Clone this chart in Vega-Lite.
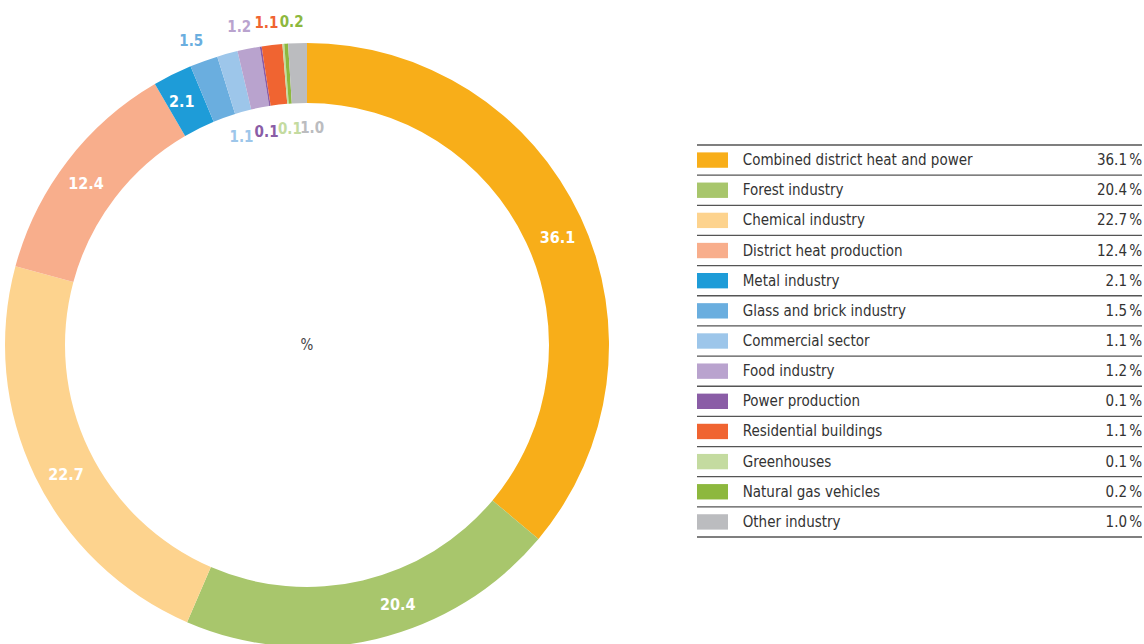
{
  "$schema": "https://vega.github.io/schema/vega-lite/v6.json",
  "padding": 0,
  "background": "white",
  "spacing": 82,
  "config": {"view": {"stroke": null}, "font": "DejaVu Sans Condensed, DejaVu Sans"},
  "datasets": {
    "sectors": [
      {"idx": 0, "sector": "Combined district heat and power", "value": 36.1},
      {"idx": 1, "sector": "Forest industry", "value": 20.4},
      {"idx": 2, "sector": "Chemical industry", "value": 22.7},
      {"idx": 3, "sector": "District heat production", "value": 12.4},
      {"idx": 4, "sector": "Metal industry", "value": 2.1},
      {"idx": 5, "sector": "Glass and brick industry", "value": 1.5},
      {"idx": 6, "sector": "Commercial sector", "value": 1.1},
      {"idx": 7, "sector": "Food industry", "value": 1.2},
      {"idx": 8, "sector": "Power production", "value": 0.1},
      {"idx": 9, "sector": "Residential buildings", "value": 1.1},
      {"idx": 10, "sector": "Greenhouses", "value": 0.1},
      {"idx": 11, "sector": "Natural gas vehicles", "value": 0.2},
      {"idx": 12, "sector": "Other industry", "value": 1.0}
    ]
  },
  "hconcat": [
    {
      "width": 614,
      "height": 690,
      "data": {"name": "sectors"},
      "encoding": {
        "theta": {"field": "value", "type": "quantitative", "stack": true},
        "order": {"field": "idx", "type": "quantitative"}
      },
      "layer": [
        {
          "mark": {"type": "arc", "outerRadius": 302, "innerRadius": 242},
          "encoding": {
            "color": {
              "field": "sector", "type": "nominal", "legend": null,
              "scale": {
                "domain": ["Combined district heat and power", "Forest industry", "Chemical industry", "District heat production", "Metal industry", "Glass and brick industry", "Commercial sector", "Food industry", "Power production", "Residential buildings", "Greenhouses", "Natural gas vehicles", "Other industry"],
                "range": ["#F8AE19", "#A8C66C", "#FDD38E", "#F8AE8C", "#1E9CD8", "#6AAEDF", "#9DC6EA", "#B9A3CE", "#8A5DA6", "#F06431", "#C4DBA0", "#8DB83E", "#BBBCBF"]
              }
            }
          }
        },
        {
          "mark": {"type": "text", "radius": 272, "fontSize": 16, "fontWeight": "bold", "color": "white", "dx": 4, "dy": 8},
          "encoding": {
            "detail": {"field": "sector", "type": "nominal"},
            "text": {"condition": {"test": "datum.idx == 0", "field": "value", "type": "quantitative", "format": ".1f"}, "value": ""}
          }
        },
        {
          "mark": {"type": "text", "radius": 272, "fontSize": 16, "fontWeight": "bold", "color": "white", "dx": 28, "dy": -5},
          "encoding": {
            "detail": {"field": "sector", "type": "nominal"},
            "text": {"condition": {"test": "datum.idx == 1", "field": "value", "type": "quantitative", "format": ".1f"}, "value": ""}
          }
        },
        {
          "mark": {"type": "text", "radius": 272, "fontSize": 16, "fontWeight": "bold", "color": "white", "dx": 4, "dy": 12},
          "encoding": {
            "detail": {"field": "sector", "type": "nominal"},
            "text": {"condition": {"test": "datum.idx == 2", "field": "value", "type": "quantitative", "format": ".1f"}, "value": ""}
          }
        },
        {
          "mark": {"type": "text", "radius": 272, "fontSize": 16, "fontWeight": "bold", "color": "white", "dx": -5, "dy": 4},
          "encoding": {
            "detail": {"field": "sector", "type": "nominal"},
            "text": {"condition": {"test": "datum.idx == 3", "field": "value", "type": "quantitative", "format": ".1f"}, "value": ""}
          }
        },
        {
          "mark": {"type": "text", "radius": 272, "fontSize": 16, "fontWeight": "bold", "color": "white", "dx": -4, "dy": 1},
          "encoding": {
            "detail": {"field": "sector", "type": "nominal"},
            "text": {"condition": {"test": "datum.idx == 4", "field": "value", "type": "quantitative", "format": ".1f"}, "value": ""}
          }
        },
        {
          "mark": {"type": "text", "radius": 324, "fontSize": 15, "fontWeight": "bold", "dx": -5},
          "encoding": {
            "color": {"field": "sector", "type": "nominal", "legend": null},
            "text": {"condition": {"test": "datum.idx == 5", "field": "value", "type": "quantitative", "format": ".1f"}, "value": ""}
          }
        },
        {
          "mark": {"type": "text", "radius": 324, "fontSize": 15, "fontWeight": "bold", "dx": -5},
          "encoding": {
            "color": {"field": "sector", "type": "nominal", "legend": null},
            "text": {"condition": {"test": "datum.idx == 7", "field": "value", "type": "quantitative", "format": ".1f"}, "value": ""}
          }
        },
        {
          "mark": {"type": "text", "radius": 324, "fontSize": 15, "fontWeight": "bold", "dx": -3},
          "encoding": {
            "color": {"field": "sector", "type": "nominal", "legend": null},
            "text": {"condition": {"test": "datum.idx == 9", "field": "value", "type": "quantitative", "format": ".1f"}, "value": ""}
          }
        },
        {
          "mark": {"type": "text", "radius": 324, "fontSize": 15, "fontWeight": "bold", "dx": 7},
          "encoding": {
            "color": {"field": "sector", "type": "nominal", "legend": null},
            "text": {"condition": {"test": "datum.idx == 11", "field": "value", "type": "quantitative", "format": ".1f"}, "value": ""}
          }
        },
        {
          "mark": {"type": "text", "radius": 218, "fontSize": 15, "fontWeight": "bold", "dx": -8, "dy": 2},
          "encoding": {
            "color": {"field": "sector", "type": "nominal", "legend": null},
            "text": {"condition": {"test": "datum.idx == 6", "field": "value", "type": "quantitative", "format": ".1f"}, "value": ""}
          }
        },
        {
          "mark": {"type": "text", "radius": 218, "fontSize": 15, "fontWeight": "bold", "dx": -7, "dy": 2},
          "encoding": {
            "color": {"field": "sector", "type": "nominal", "legend": null},
            "text": {"condition": {"test": "datum.idx == 8", "field": "value", "type": "quantitative", "format": ".1f"}, "value": ""}
          }
        },
        {
          "mark": {"type": "text", "radius": 218, "fontSize": 15, "fontWeight": "bold", "dx": 0, "dy": 1},
          "encoding": {
            "color": {"field": "sector", "type": "nominal", "legend": null},
            "text": {"condition": {"test": "datum.idx == 10", "field": "value", "type": "quantitative", "format": ".1f"}, "value": ""}
          }
        },
        {
          "mark": {"type": "text", "radius": 218, "fontSize": 15, "fontWeight": "bold", "dx": 12, "dy": 1},
          "encoding": {
            "color": {"field": "sector", "type": "nominal", "legend": null},
            "text": {"condition": {"test": "datum.idx == 12", "field": "value", "type": "quantitative", "format": ".1f"}, "value": ""}
          }
        },
        {
          "data": {"values": [{"t": "%"}]},
          "mark": {"type": "text", "fontSize": 15, "color": "#444444"},
          "encoding": {"text": {"field": "t", "type": "nominal"}, "theta": null, "order": null}
        }
      ]
    },
    {
      "width": 445,
      "height": 644,
      "data": {"name": "sectors"},
      "encoding": {
        "y": {"field": "sector", "type": "nominal", "sort": {"field": "idx"}, "axis": null,
              "scale": {"range": [145, 537], "paddingInner": 0, "paddingOuter": 0}}
      },
      "layer": [
        {
          "mark": {"type": "rule", "color": "#555555", "strokeWidth": 1.3},
          "encoding": {"y": {"field": "sector", "type": "nominal", "sort": {"field": "idx"}, "bandPosition": 0}}
        },
        {
          "transform": [{"filter": "datum.idx == 12"}],
          "mark": {"type": "rule", "color": "#555555", "strokeWidth": 1.3},
          "encoding": {"y": {"field": "sector", "type": "nominal", "sort": {"field": "idx"}, "bandPosition": 1}}
        },
        {
          "mark": {"type": "bar", "height": {"band": 0.51}},
          "encoding": {
            "x": {"datum": 0, "type": "quantitative", "scale": {"domain": [0, 1]}, "axis": null},
            "x2": {"datum": 0.0697},
            "color": {"field": "sector", "type": "nominal", "legend": null}
          }
        },
        {
          "mark": {"type": "text", "align": "left", "baseline": "middle", "fontSize": 15, "color": "#333333"},
          "encoding": {
            "x": {"datum": 0.1027, "type": "quantitative"},
            "text": {"field": "sector", "type": "nominal"}
          }
        },
        {
          "mark": {"type": "text", "align": "right", "baseline": "middle", "fontSize": 15, "color": "#333333", "dx": -15},
          "encoding": {
            "x": {"datum": 1, "type": "quantitative"},
            "text": {"field": "value", "type": "quantitative", "format": ".1f"}
          }
        },
        {
          "mark": {"type": "text", "align": "right", "baseline": "middle", "fontSize": 15, "color": "#333333"},
          "encoding": {
            "x": {"datum": 1, "type": "quantitative"},
            "text": {"value": "%"}
          }
        }
      ]
    }
  ],
  "resolve": {"scale": {"color": "shared"}}
}
